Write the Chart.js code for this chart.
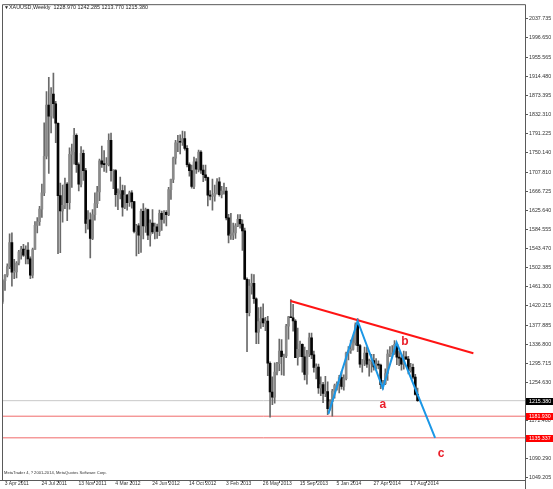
<!DOCTYPE html>
<html>
<head>
<meta charset="utf-8">
<script src="https://cdn.jsdelivr.net/npm/chart.js@4.4.0/dist/chart.umd.min.js"></script>
<style>
html,body{margin:0;padding:0;background:#ffffff;}
#wrap{position:relative;width:553px;height:489px;}
</style>
</head>
<body>
<div id="wrap"><canvas id="c" width="553" height="489"></canvas></div>
<script>
// Weekly XAUUSD bars, week index 0 = 3 Apr 2011
const opens = [1429,1474,1486,1504,1556,1492,1493,1512,1536,1542,1529,1540,1521,1486,1541,1593,1601,1628,1663,1742,1852,1828,1876,1855,1813,1657,1624,1636,1682,1642,1746,1752,1787,1724,1682,1748,1711,1597,1605,
1565,1616,1640,1665,1732,1725,1724,1724,1776,1711,1711,1659,1662,1668,1632,1658,1642,1663,1644,1580,1592,1572,1623,1592,1627,1572,1598,1579,1590,1580,1619,1606,1621,1616,1670,1692,1738,1771,1773,1772,1780,1759,1724,1711,1677,1730,1714,1751,1712,1702,1696,1658,1656,
1656,1662,1687,1659,1667,1667,1609,1572,1572,1577,1592,1606,1596,1581,1477,1405,1462,1468,1435,1363,1386,1392,1383,1387,1296,1234,1223,1277,1295,1322,1310,1312,1376,1396,1394,1387,1308,1326,1337,1310,1272,1316,1351,1314,1287,1288,1243,1250,1231,1235,1198,1213,
1236,1248,1252,1265,1246,1263,1318,1323,1326,1340,1379,1334,1294,1303,1318,1294,1300,1302,1288,1293,1292,1250,1252,1274,1316,1316,1317,1337,1309,1307,1294,1310,1305,1280,1287,1266,1228.97];
const highs = [1476,1487,1510,1575,1577,1520,1515,1539,1548,1552,1549,1556,1525,1544,1601,1610,1634,1682,1814,1881,1912,1890,1921,1860,1814,1684,1680,1695,1685,1760,1768,1802,1790,1728,1763,1755,1716,1625,1620,
1627,1663,1677,1736,1764,1754,1739,1790,1792,1712,1713,1672,1697,1680,1679,1660,1667,1668,1645,1595,1597,1628,1640,1630,1628,1605,1627,1598,1596,1626,1624,1625,1625,1675,1693,1740,1776,1787,1788,1796,1795,1765,1728,1723,1740,1737,1755,1754,1723,1723,1697,1668,1693,
1680,1694,1696,1677,1684,1675,1617,1619,1598,1597,1616,1616,1605,1587,1480,1476,1488,1487,1437,1416,1417,1424,1395,1397,1299,1267,1297,1298,1348,1347,1316,1380,1397,1433,1423,1390,1372,1344,1338,1331,1324,1361,1361,1322,1295,1294,1267,1255,1268,1256,1218,1240,
1251,1256,1270,1278,1271,1320,1332,1346,1354,1383,1392,1337,1304,1331,1331,1305,1315,1315,1306,1301,1294,1259,1284,1325,1332,1334,1345,1339,1322,1316,1322,1321,1311,1296,1294,1272,1242.285];
const lows = [1425,1453,1482,1500,1462,1478,1480,1508,1520,1526,1510,1510,1478,1480,1541,1577,1593,1610,1657,1736,1705,1792,1824,1771,1532,1534,1600,1629,1603,1628,1675,1725,1707,1667,1676,1690,1577,1585,1523,
1562,1604,1631,1646,1718,1709,1707,1721,1688,1672,1634,1627,1650,1613,1629,1626,1634,1630,1577,1527,1532,1535,1564,1578,1562,1548,1575,1564,1565,1571,1582,1598,1592,1614,1649,1685,1725,1752,1747,1765,1755,1719,1699,1673,1672,1705,1708,1705,1687,1690,1635,1648,1626,
1645,1660,1656,1652,1660,1605,1555,1563,1562,1565,1590,1587,1539,1476,1321,1398,1445,1425,1338,1338,1371,1375,1366,1269,1180,1207,1210,1271,1280,1271,1270,1308,1348,1394,1365,1308,1292,1310,1277,1260,1251,1310,1306,1277,1262,1231,1226,1211,1224,1185,1195,1182,
1221,1238,1232,1240,1238,1260,1303,1317,1324,1335,1321,1287,1277,1291,1287,1268,1277,1281,1284,1284,1241,1240,1250,1259,1310,1310,1315,1293,1291,1281,1283,1304,1273,1277,1262,1227,1213.77];
const closes = [1474,1486,1504,1556,1492,1493,1512,1536,1542,1529,1540,1521,1486,1541,1593,1601,1628,1663,1742,1852,1828,1876,1855,1813,1657,1624,1636,1682,1642,1746,1752,1787,1724,1682,1748,1711,1597,1605,1565,
1616,1640,1665,1732,1725,1724,1724,1776,1711,1711,1659,1662,1668,1632,1658,1642,1663,1644,1580,1592,1572,1623,1592,1627,1572,1598,1579,1590,1580,1619,1606,1621,1616,1670,1692,1738,1771,1773,1772,1780,1759,1724,1711,1677,1730,1714,1751,1712,1702,1696,1658,1656,1656,
1662,1687,1659,1667,1667,1609,1572,1572,1577,1592,1606,1596,1581,1477,1405,1462,1468,1435,1363,1386,1392,1383,1387,1296,1234,1223,1277,1295,1322,1310,1312,1376,1396,1394,1387,1308,1326,1337,1310,1272,1316,1351,1314,1287,1288,1243,1250,1231,1235,1198,1213,1236,
1248,1252,1265,1246,1263,1318,1323,1326,1340,1379,1334,1294,1303,1318,1294,1300,1302,1288,1293,1292,1250,1252,1274,1316,1316,1317,1337,1309,1307,1294,1310,1305,1280,1287,1266,1229,1215.38];

// Time axis labels (week index -> label)
const xTickIndex = [0,16,32,48,64,80,96,112,128,144,160,176];
const xTickLabels = ['3 Apr 2011','24 Jul 2011','13 Nov 2011','4 Mar 2012','24 Jun 2012','14 Oct 2012','3 Feb 2013','26 May 2013','15 Sep 2013','5 Jan 2014','27 Apr 2014','17 Aug 2014'];

// Price axis labels
const yTickValues = [2037.735,1996.650,1955.565,1914.480,1873.395,1832.310,1791.225,1750.140,1707.810,1666.725,1625.640,1584.555,1543.470,1502.385,1461.300,1420.215,1377.885,1336.800,1295.715,1254.630,1213.545,1172.460,1131.375,1090.290,1049.205];

// Levels and drawn objects (week index, price)
const lastPrice = 1215.38;
const levelValues = [1181.93, 1135.337];
const trendX = [124.9, 204.2];
const trendY = [1430, 1317.7];
const waveX = [141.3, 154.0, 164.9, 170.9, 187.6];
const waveY = [1187, 1387, 1242.6, 1340.5, 1135.337];
const waveLabelText = ['a','b','c'];
const waveLabelX = [164.9, 174.5, 190.2];
const waveLabelY = [1206.2, 1342.6, 1100.6];

const titleText = 'XAUUSD,Weekly  1228.970 1242.285 1213.770 1215.380';
const copyrightText = 'MetaTrader 4, ? 2001-2014, MetaQuotes Software Corp.';

const X_MIN = -0.3, X_MAX = 226.6;
const Y_MIN = 1044.5, Y_MAX = 2069.5;
const FONT = 'Liberation Sans';

const idx = opens.map((_, i) => i);
const wickData = idx.map(i => ({x: i, y: [lows[i], highs[i]]}));
const bodyData = idx.map(i => ({x: i, y: [opens[i], closes[i]]}));
const bodyColors = idx.map(i => closes[i] >= opens[i] ? '#8a8a8a' : '#050505');

function hLine(v) { return [{x: X_MIN, y: v}, {x: X_MAX, y: v}]; }

const decor = {
  id: 'decor',
  beforeDraw(chart) {
    const ctx = chart.ctx;
    ctx.save();
    ctx.fillStyle = '#ffffff';
    ctx.fillRect(0, 0, chart.width, chart.height);
    ctx.restore();
  },
  afterDraw(chart) {
    const ctx = chart.ctx;
    const ca = chart.chartArea;
    const xs = chart.scales.x, ys = chart.scales.y;
    ctx.save();
    // frame
    ctx.strokeStyle = '#5a5a5a';
    ctx.lineWidth = 1;
    ctx.beginPath();
    ctx.moveTo(ca.left + 0.5, ca.top + 0.5);
    ctx.lineTo(ca.right + 0.5, ca.top + 0.5);
    ctx.moveTo(ca.left + 0.5, ca.top + 0.5);
    ctx.lineTo(ca.left + 0.5, ca.bottom + 0.5);
    ctx.moveTo(0, ca.bottom + 0.5);
    ctx.lineTo(ca.right + 0.5, ca.bottom + 0.5);
    ctx.moveTo(ca.right + 0.5, ca.top + 0.5);
    ctx.lineTo(ca.right + 0.5, chart.height);
    ctx.stroke();

    // title
    ctx.fillStyle = '#222';
    ctx.textBaseline = 'middle';
    ctx.textAlign = 'left';
    ctx.font = '5px "' + FONT + '"';
    ctx.fillText('\u25BC', 4, 8);
    ctx.font = '5.4px "' + FONT + '"';
    ctx.fillText(titleText, 9, 8);

    // copyright
    ctx.font = '4.1px "' + FONT + '"';
    ctx.fillStyle = '#333';
    ctx.fillText(copyrightText, 4, 473);

    // price boxes on axis
    const boxes = [{v: lastPrice, c: '#000000'}].concat(levelValues.map(v => ({v: v, c: '#ff0000'})));
    ctx.font = '5.3px "' + FONT + '"';
    boxes.forEach(b => {
      const y = ys.getPixelForValue(b.v);
      ctx.fillStyle = b.c;
      ctx.fillRect(ca.right + 1, Math.round(y) - 3, 27, 7);
      ctx.fillStyle = '#ffffff';
      ctx.fillText(b.v.toFixed(3), ca.right + 4, Math.round(y) + 0.5);
    });

    // wave labels
    ctx.font = 'bold 12px "' + FONT + '"';
    ctx.fillStyle = '#ea1f2a';
    ctx.textAlign = 'center';
    waveLabelText.forEach((t, i) => {
      ctx.fillText(t, xs.getPixelForValue(waveLabelX[i]), ys.getPixelForValue(waveLabelY[i]));
    });
    ctx.restore();
  }
};

new Chart(document.getElementById('c'), {
  type: 'bar',
  data: {
    datasets: [
      {type: 'line', label: 'wave', data: waveX.map((x, i) => ({x: x, y: waveY[i]})), borderColor: '#1b97e6', borderWidth: 2, pointRadius: 0, tension: 0, fill: false, order: 0},
      {type: 'line', label: 'trend', data: trendX.map((x, i) => ({x: x, y: trendY[i]})), borderColor: '#ff1414', borderWidth: 2, pointRadius: 0, tension: 0, fill: false, order: 0},
      {type: 'bar', label: 'body', data: bodyData, backgroundColor: bodyColors, barThickness: 2, minBarLength: 1, grouped: false, order: 1},
      {type: 'bar', label: 'wick', data: wickData, backgroundColor: '#6a6a6a', barThickness: 1, grouped: false, order: 2},
      {type: 'line', label: 'last', data: hLine(lastPrice), borderColor: '#c8c8c8', borderWidth: 1, pointRadius: 0, fill: false, order: 3},
      {type: 'line', label: 'lvl1', data: hLine(levelValues[0]), borderColor: '#f06a6a', borderWidth: 1, pointRadius: 0, fill: false, order: 3},
      {type: 'line', label: 'lvl2', data: hLine(levelValues[1]), borderColor: '#f06a6a', borderWidth: 1, pointRadius: 0, fill: false, order: 3}
    ]
  },
  options: {
    responsive: false,
    animation: false,
    devicePixelRatio: 1,
    events: [],
    layout: {padding: {left: 2, top: 2, right: 0, bottom: 0}},
    plugins: {legend: {display: false}, tooltip: {enabled: false}, title: {display: false}},
    scales: {
      x: {
        type: 'linear', position: 'bottom', min: X_MIN, max: X_MAX, offset: false,
        grid: {drawOnChartArea: false, drawTicks: true, tickLength: 3, color: '#555'},
        border: {display: false},
        ticks: {
          autoSkip: false, maxRotation: 0, minRotation: 0, align: 'start', labelOffset: 2, padding: -2,
          font: {family: FONT, size: 5}, color: '#333',
          callback: v => { const k = xTickIndex.indexOf(v); return k >= 0 ? xTickLabels[k] : ''; }
        },
        afterBuildTicks: s => { s.ticks = xTickIndex.map(v => ({value: v})); },
        afterFit: s => { s.height = 9; }
      },
      y: {
        type: 'linear', position: 'right', min: Y_MIN, max: Y_MAX,
        grid: {drawOnChartArea: false, drawTicks: true, tickLength: 3, color: '#555'},
        border: {display: false},
        ticks: {
          autoSkip: false, padding: 1, font: {family: FONT, size: 5.3}, color: '#333',
          callback: v => Number(v).toFixed(3)
        },
        afterBuildTicks: s => { s.ticks = yTickValues.map(v => ({value: v})); },
        afterFit: s => { s.width = 28; }
      }
    }
  },
  plugins: [decor]
});
</script>
</body>
</html>
